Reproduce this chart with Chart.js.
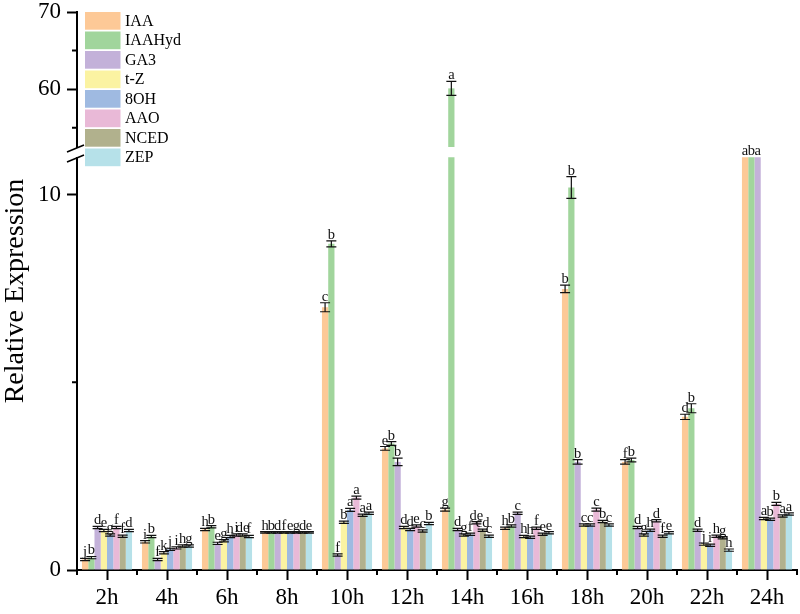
<!DOCTYPE html>
<html><head><meta charset="utf-8">
<script src="https://cdn.jsdelivr.net/npm/chart.js@4.4.0/dist/chart.umd.min.js"></script>
<style>html,body{margin:0;padding:0;background:#fff;}</style>
</head><body>
<canvas id="c" width="800" height="614" style="width:800px;height:614px;display:block"></canvas>
<script>
// ---- data ----
const categories = ['2h','4h','6h','8h','10h','12h','14h','16h','18h','20h','22h','24h'];
const seriesNames = ['IAA','IAAHyd','GA3','t-Z','8OH','AAO','NCED','ZEP'];
const colors = ['#FDC997','#A1D59C','#C3B1D9','#FBF3A2','#9FBAE1','#E9B9D7','#B1B18D','#B6E1E9'];

const IAA    = [0.28,0.75,1.08,1.00,7.00,3.24,1.61,1.11,7.49,2.88,4.08,14.8];
const IAAHyd = [0.33,0.89,1.15,1.00,8.69,3.37,60.1,1.17,10.19,2.93,4.31,14.3];
const GA3    = [1.13,0.28,0.71,1.00,0.40,2.88,1.08,1.51,2.88,1.13,1.06,15.6];
const tZ     = [1.05,0.46,0.78,1.00,1.27,1.13,0.93,0.89,1.20,0.93,0.69,1.37];
const OH8    = [0.93,0.55,0.89,1.00,1.60,1.08,0.95,0.87,1.20,1.06,0.66,1.35];
const AAO    = [1.13,0.59,0.93,1.00,1.93,1.17,1.26,1.11,1.61,1.31,0.90,1.76];
const NCED   = [0.90,0.64,0.93,1.00,1.46,1.04,1.06,0.95,1.29,0.90,0.86,1.44];
const ZEP    = [1.05,0.64,0.89,1.00,1.51,1.24,0.90,0.99,1.20,0.99,0.53,1.49];

const IAAErr    = [0.03,0.03,0.03,0.02,0.12,0.05,0.04,0.03,0.10,0.06,0.07,0];
const IAAHydErr = [0.03,0.03,0.03,0.02,0.08,0.05,0.90,0.03,0.29,0.05,0.12,0];
const GA3Err    = [0.03,0.03,0.03,0.02,0.03,0.10,0.03,0.03,0.06,0.03,0.03,0];
const tZErr     = [0.03,0.03,0.03,0.02,0.03,0.03,0.03,0.03,0.03,0.03,0.03,0.03];
const OH8Err    = [0.03,0.03,0.03,0.02,0.04,0.03,0.03,0.03,0.03,0.03,0.03,0.03];
const AAOErr    = [0.03,0.03,0.03,0.02,0.04,0.03,0.03,0.03,0.04,0.03,0.03,0.04];
const NCEDErr   = [0.03,0.03,0.03,0.02,0.03,0.03,0.03,0.03,0.03,0.03,0.03,0.03];
const ZEPErr    = [0.03,0.03,0.03,0.02,0.03,0.03,0.03,0.03,0.03,0.03,0.03,0.03];

const IAALet    = ['j','i','h','h','c','e','g','h','b','f','d','a'];
const IAAHydLet = ['b','b','b','b','b','b','a','b','b','b','b','b'];
const GA3Let    = ['d','f','e','d','f','b','d','c','b','d','d','a'];
const tZLet     = ['e','k','g','f','b','d','g','h','c','g','j','a'];
const OH8Let    = ['g','j','h','e','a','d','f','h','c','h','i','b'];
const AAOLet    = ['f','i','i','g','a','e','de','f','c','d','h','b'];
const NCEDLet   = ['f','h','de','d','a','c','cd','e','b','f','g','a'];
const ZEPLet    = ['d','g','f','e','a','b','c','e','c','e','h','a'];

const lowTicks = [0, 10];
const lowMinor = [5];
const highTicks = [60, 70];
const highMinor = [55, 65];

// axis break settings
const LOW_CLIP = 11;
const LOW_AXIS_MAX = 11.27;
const HIGH_MIN = 52.5;
const HIGH_MAX = 70;

const seriesVals = [IAA, IAAHyd, GA3, tZ, OH8, AAO, NCED, ZEP];
const seriesErr = [IAAErr, IAAHydErr, GA3Err, tZErr, OH8Err, AAOErr, NCEDErr, ZEPErr];
const seriesLet = [IAALet, IAAHydLet, GA3Let, tZLet, OH8Let, AAOLet, NCEDLet, ZEPLet];

const SERIF = '"Liberation Serif", "DejaVu Serif", serif';

const lowerSets = seriesNames.map((n, i) => ({
  label: n, data: seriesVals[i].map(v => Math.min(v, LOW_CLIP)),
  backgroundColor: colors[i], borderWidth: 0, yAxisID: 'y', stack: n
}));
const upperSets = seriesNames.map((n, i) => ({
  label: n + '_upper', data: seriesVals[i].map(v => v > HIGH_MIN ? [HIGH_MIN, v] : null),
  backgroundColor: colors[i], borderWidth: 0, yAxisID: 'y2', stack: n
}));

const deco = {
  id: 'deco',
  afterDatasetsDraw(chart) {
    const ctx = chart.ctx, yL = chart.scales.y, yU = chart.scales.y2;
    ctx.save();
    ctx.strokeStyle = '#111'; ctx.lineWidth = 1.2;
    ctx.fillStyle = '#111'; ctx.font = '14.5px ' + SERIF;
    ctx.textAlign = 'center'; ctx.textBaseline = 'alphabetic';
    seriesVals.forEach((vals, s) => {
      const metaL = chart.getDatasetMeta(s), metaU = chart.getDatasetMeta(s + 8);
      vals.forEach((v, j) => {
        const e = seriesErr[s][j];
        let top;
        let x = metaL.data[j].x;
        let sc = null;
        if (v <= LOW_CLIP) sc = yL;
        else if (v >= HIGH_MIN) { sc = yU; x = metaU.data[j].x; }
        if (sc) {
          const yT = sc.getPixelForValue(v + e), yB = sc.getPixelForValue(v - e);
          ctx.beginPath();
          ctx.moveTo(x, yT); ctx.lineTo(x, yB);
          ctx.moveTo(x - 5, yT); ctx.lineTo(x + 5, yT);
          ctx.moveTo(x - 5, yB); ctx.lineTo(x + 5, yB);
          ctx.stroke();
          top = yT;
        } else {
          top = yL.getPixelForValue(LOW_CLIP);
        }
        ctx.fillText(seriesLet[s][j], x, top - 2);
      });
    });
    ctx.restore();
  },
  afterDraw(chart) {
    const ctx = chart.ctx, xs = chart.scales.x, yL = chart.scales.y, yU = chart.scales.y2;
    const ca = chart.chartArea;
    ctx.save();
    ctx.strokeStyle = '#000'; ctx.lineWidth = 2;
    ctx.beginPath();
    for (let i = 0; i <= categories.length; i++) {
      const px = Math.round(xs.getPixelForValue(i - 0.5));
      ctx.moveTo(px, ca.bottom); ctx.lineTo(px, ca.bottom + 5);
    }
    lowMinor.forEach(v => { const py = yL.getPixelForValue(v); ctx.moveTo(ca.left, py); ctx.lineTo(ca.left - 5, py); });
    highMinor.forEach(v => { const py = yU.getPixelForValue(v); ctx.moveTo(ca.left, py); ctx.lineTo(ca.left - 5, py); });
    ctx.stroke();
    // axis break
    const yb = yU.bottom;
    ctx.fillStyle = '#fff';
    ctx.fillRect(ca.left - 3, yb + 1, 6, 9);
    ctx.lineWidth = 1.6;
    ctx.beginPath();
    ctx.moveTo(ca.left - 10, yb + 5); ctx.lineTo(ca.left + 7, yb - 2);
    ctx.moveTo(ca.left - 10, yb + 15); ctx.lineTo(ca.left + 7, yb + 8);
    ctx.stroke();
    // axis title
    ctx.fillStyle = '#000';
    ctx.font = '28px ' + SERIF;
    ctx.textAlign = 'center'; ctx.textBaseline = 'middle';
    ctx.translate(16, (ca.top + ca.bottom) / 2);
    ctx.rotate(-Math.PI / 2);
    ctx.fillText('Relative Expression', 0, 0);
    ctx.restore();
    // legend
    ctx.save();
    ctx.font = '16px ' + SERIF; ctx.textAlign = 'left'; ctx.textBaseline = 'middle';
    seriesNames.forEach((n, i) => {
      const y0 = ca.top + i * 19.5;
      ctx.fillStyle = colors[i];
      ctx.fillRect(ca.left + 8, y0, 35.5, 17.7);
      ctx.fillStyle = '#000';
      ctx.fillText(n, ca.left + 48, y0 + 9.5);
    });
    ctx.restore();
  }
};

const tickFont = { family: SERIF, size: 23 };
new Chart(document.getElementById('c'), {
  type: 'bar',
  data: { labels: categories, datasets: lowerSets.concat(upperSets) },
  options: {
    responsive: false, animation: false,
    layout: { padding: { top: 12, right: 3, left: 0, bottom: 0 } },
    datasets: { bar: { categoryPercentage: 0.835, barPercentage: 1.0 } },
    plugins: { legend: { display: false }, tooltip: { enabled: false } },
    scales: {
      x: {
        offset: true,
        grid: { offset: false, drawOnChartArea: false, tickLength: 10, tickWidth: 2, tickColor: '#000' },
        border: { color: '#000', width: 2 },
        ticks: { color: '#000', font: tickFont, padding: 4, maxRotation: 0, autoSkip: false },
        afterFit: s => { s.height = 44; s.paddingLeft = 0; s.paddingRight = 0; }
      },
      y: {
        type: 'linear', position: 'left', stack: 'v', stackWeight: 423, weight: 0,
        min: 0, max: LOW_AXIS_MAX, stacked: false,
        afterBuildTicks: s => { s.ticks = lowTicks.map(v => ({ value: v })); },
        grid: { drawOnChartArea: false, tickLength: 10, tickWidth: 2, tickColor: '#000' },
        border: { color: '#000', width: 2 },
        ticks: { color: '#000', font: tickFont, padding: 6 },
        afterFit: s => { s.width = 77; s.paddingTop = 0; s.paddingBottom = 0; }
      },
      y2: {
        type: 'linear', position: 'left', stack: 'v', stackWeight: 135, weight: 1,
        min: HIGH_MIN, max: HIGH_MAX, stacked: false,
        afterBuildTicks: s => { s.ticks = highTicks.map(v => ({ value: v })); },
        grid: { drawOnChartArea: false, tickLength: 10, tickWidth: 2, tickColor: '#000' },
        border: { color: '#000', width: 2 },
        ticks: { color: '#000', font: tickFont, padding: 6 },
        afterFit: s => { s.width = 77; s.paddingTop = 0; s.paddingBottom = 0; }
      }
    }
  },
  plugins: [deco]
});
</script>
</body></html>
